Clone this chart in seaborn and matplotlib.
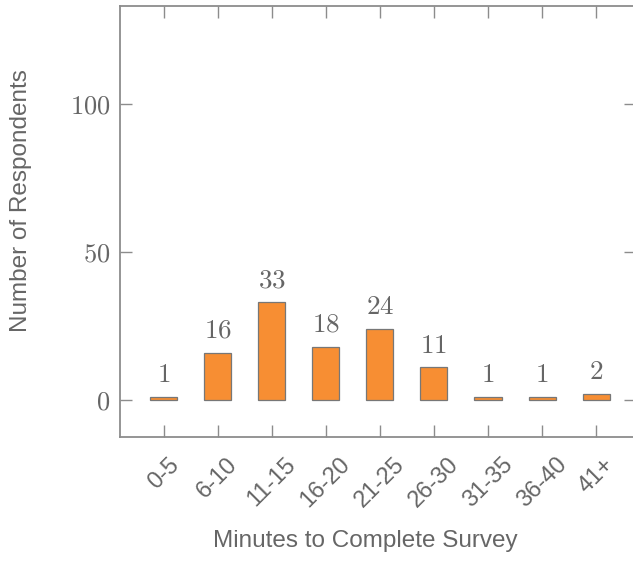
import matplotlib.pyplot as plt
import pandas as pd
import seaborn as sb

# survey completion time buckets
buckets = ["0-5", "6-10", "11-15", "16-20", "21-25", "26-30", "31-35", "36-40", "41+"]
counts = [1, 16, 33, 18, 24, 11, 1, 1, 2]

df = pd.DataFrame({"bucket": buckets, "count": counts})

sb.set_style("white")
plt.rcParams['font.family'] = ['Liberation Sans', 'DejaVu Sans']
plt.rcParams['mathtext.fontset'] = 'cm'

grey = "#666666"
spine = "#8c8c8c"

fig = plt.figure(figsize=(6.33, 5.61), dpi=100)
ax = fig.add_axes([0.19, 0.221, 0.815, 0.768])

sb.barplot(data=df, x="bucket", y="count", color="#f78e33", saturation=1,
           width=0.5, edgecolor="#777777", linewidth=0.9, ax=ax)

for i, c in enumerate(counts):
    ax.text(i, c + 3, "$%d$" % c, ha="center", va="bottom", fontsize=19.5, color=grey)

ax.set_xlim(-0.8, 8.74)
ax.set_ylim(-12.5, 133)
ax.set_yticks([0, 50, 100])
ax.set_yticklabels(["$0$", "$50$", "$100$"], fontsize=19, color=grey)
ax.set_xticks(range(len(buckets)))
ax.set_xticklabels(buckets, rotation=45, ha="center", va="top",
                   fontsize=17, color=grey)

ax.tick_params(direction="in", length=8.5, width=1, color=spine,
               top=True, right=True, bottom=True, left=True)
ax.tick_params(axis="x", pad=12)
ax.tick_params(axis="y", pad=7)
for s in ax.spines.values():
    s.set_visible(True)
    s.set_color(spine)
    s.set_linewidth(1.3)

ax.set_xlabel("Minutes to Complete Survey", fontsize=17.5, color=grey)
ax.set_ylabel("Number of Respondents", fontsize=17.5, color=grey)
ax.xaxis.set_label_coords(0.475, -0.241)
ax.yaxis.set_label_coords(-0.192, 0.548)
ax.xaxis.label.set_va("center")
ax.yaxis.label.set_va("center")

fig.savefig("out.png", dpi=100)
